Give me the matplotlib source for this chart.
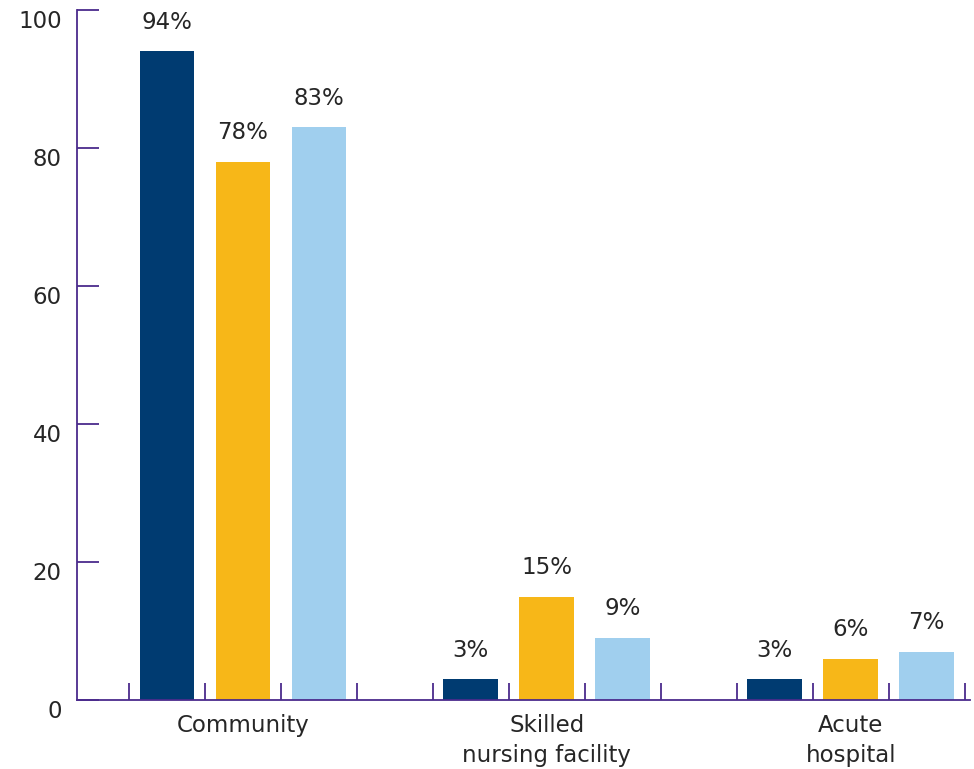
import matplotlib.pyplot as plt
from matplotlib.transforms import ScaledTranslation

plt.rcParams['font.family'] = ['DejaVu Sans']

# data
categories = ["Community", "Skilled\nnursing facility", "Acute\nhospital"]
series_a = [94, 3, 3]
series_b = [78, 15, 6]
series_c = [83, 9, 7]
colors = ["#003B71", "#F7B718", "#A0CFEE"]
axis_col = "#4B2B8C"
text_col = "#262626"

fig = plt.figure(figsize=(9.74, 7.69), dpi=100)
ax = fig.add_axes([77 / 974, 1 - 700 / 769, (970 - 77) / 974, 690 / 769])

# each group uses 4 slots: 3 bars + one empty slot
for s, vals in enumerate([series_a, series_b, series_c]):
    xs = [g * 4 + s + 0.5 for g in range(len(categories))]
    ax.bar(xs, vals, width=0.72, color=colors[s], zorder=2)
    for x, v in zip(xs, vals):
        ax.annotate(f"{v}%", (x, v), xytext=(0, 21), textcoords="offset points",
                    ha="center", va="center", fontsize=16.5, color=text_col)

ax.set_xlim(-0.684, 11.07)
ax.set_ylim(0, 100)

ax.set_yticks(range(0, 101, 20))
ax.tick_params(axis="y", direction="in", length=16, width=1.3, color=axis_col,
               labelsize=16.5, labelcolor=text_col, pad=11)
for lab in ax.get_yticklabels():
    lab.set_transform(lab.get_transform() + ScaledTranslation(0, -0.09, fig.dpi_scale_trans))

ax.set_xticks([g * 4 + 1.5 for g in range(len(categories))])
ax.set_xticklabels(categories, linespacing=1.38)
ax.set_xticks(range(0, 12), minor=True)
ax.tick_params(axis="x", which="major", length=0, labelsize=16.5, labelcolor=text_col, pad=10)
ax.tick_params(axis="x", which="minor", direction="in", length=12, width=1.3, color=axis_col)

for side in ["top", "right"]:
    ax.spines[side].set_visible(False)
for side in ["left", "bottom"]:
    ax.spines[side].set_color(axis_col)
    ax.spines[side].set_linewidth(1.3)

fig.savefig("out.png", dpi=100)
